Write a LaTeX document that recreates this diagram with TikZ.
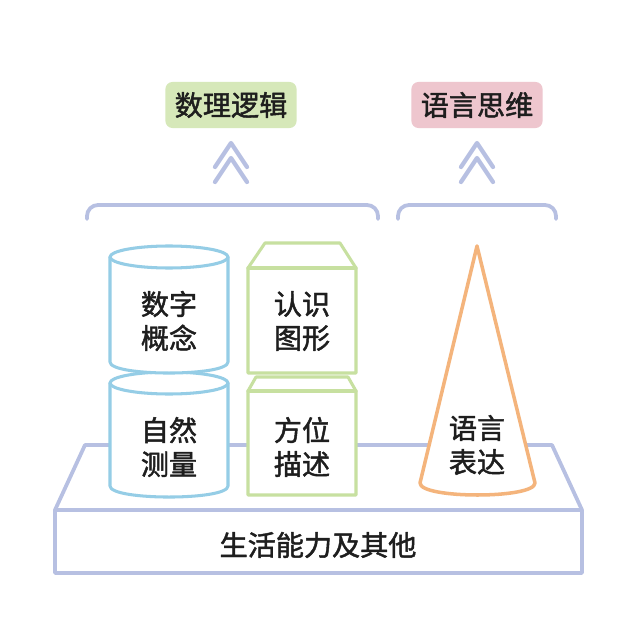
\documentclass[tikz,border=0pt]{standalone}
\usepackage{fontspec}
\setmainfont{Noto Sans CJK SC}[BoldFont=Noto Sans CJK SC,BoldFeatures={FakeBold=1.6}]
\usepackage{xcolor}
\definecolor{lavender}{HTML}{B7C0E2}
\definecolor{cylblue}{HTML}{95CDE6}
\definecolor{boxgreen}{HTML}{C7E0A0}
\definecolor{coneorange}{HTML}{F4B47C}
\definecolor{labgreen}{HTML}{D6E8B9}
\definecolor{labpink}{HTML}{EEC6CE}
\definecolor{ink}{HTML}{1E1E1E}

\begin{document}
\begin{tikzpicture}[x=0.03cm,y=-0.03cm,line join=round,line cap=round,
  txt/.style={font=\fontsize{24}{29}\selectfont\bfseries,text=ink,align=center,inner sep=0pt},
  tag/.style={txt,rounded corners=6pt,inner xsep=0.28cm,minimum height=1.38cm},
  plat/.style={draw=lavender,line width=3.2pt,fill=white},
  cyl/.style={draw=cylblue,line width=2.6pt,fill=white},
  blk/.style={draw=boxgreen,line width=2.6pt,fill=white},
  chev/.style={draw=lavender,line width=3.6pt}]
\useasboundingbox (0,0) rectangle (640,622);
\fill[white] (0,0) rectangle (640,622);
\draw[plat] (55,510) -- (85,445) -- (552,445) -- (582,510) -- cycle;
\draw[plat] (55,510) rectangle (582,573);
\node[txt] (base) at (318,545) {生活能力及其他};
\draw[cyl] (110,383) -- (110,486) .. controls (110,500.7) and (228,500.7) .. (228,486) -- (228,383);
\draw[cyl] (169,383) ellipse [x radius=59,y radius=11];
\draw[cyl] (110,257) -- (110,362) .. controls (110,376.7) and (228,376.7) .. (228,362) -- (228,257);
\draw[cyl] (169,257) ellipse [x radius=59,y radius=11];
\draw[blk] (256,377) -- (348,377) -- (356,391) -- (356,495) -- (248,495) -- (248,391) -- cycle;
\draw[blk] (248,391) -- (356,391);
\draw[blk] (265,243) -- (340,243) -- (356,268) -- (356,373) -- (248,373) -- (248,268) -- cycle;
\draw[blk] (248,268) -- (356,268);
\draw[draw=coneorange,line width=3pt,fill=white] (420,483) -- (477,246) -- (535,483) .. controls (535,499) and (420,499) .. (420,483);
\node[txt] (shuzi) at (169,321) {数字\\概念};
\node[txt] (ziran) at (169,447) {自然\\测量};
\node[txt] (tuxing) at (302,321) {认识\\图形};
\node[txt] (fangwei) at (302,447) {方位\\描述};
\node[txt] (biaoda) at (477,445) {语言\\表达};
\draw[plat,fill=none,rounded corners=0.33cm] (87,219) -- (87,205) -- (378,205) -- (378,219);
\draw[plat,fill=none,rounded corners=0.33cm] (398,219) -- (398,205) -- (556,205) -- (556,219);
\draw[chev] (215,167) -- (231,143) -- (247,167);
\draw[chev] (215,182) -- (231,158) -- (247,182);
\draw[chev] (461,167) -- (477,143) -- (493,167);
\draw[chev] (461,182) -- (477,158) -- (493,182);
\node[tag,fill=labgreen] (luoji) at (231,105) {数理逻辑};
\node[tag,fill=labpink] (siwei) at (477,105) {语言思维};
\end{tikzpicture}
\end{document}
